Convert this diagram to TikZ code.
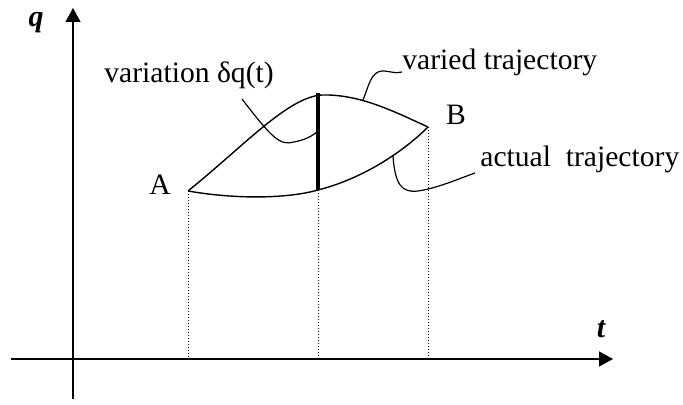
\documentclass[tikz,border=0pt]{standalone}
\usepackage{fontspec}
\setmainfont{Liberation Serif}
\usetikzlibrary{arrows.meta}
\tikzset{
  lbl/.style={inner sep=0pt, font=\fontsize{14.8}{17}\selectfont},
  axislbl/.style={inner sep=0pt, font=\fontsize{15}{17}\selectfont\bfseries\itshape},
  axis/.style={line width=0.7pt, -{Triangle[length=7pt,width=7.5pt]}},
  curve/.style={line width=0.7pt},
  leader/.style={line width=0.6pt},
  guide/.style={line width=0.5pt, dash pattern=on 0.5pt off 1pt},
  thick var/.style={line width=2pt}
}
\begin{document}
\begin{tikzpicture}[x=0.5pt,y=-0.5pt]
\useasboundingbox (0,0) rectangle (683,405);
% coordinates
\coordinate (xs) at (11,359);
\coordinate (xe) at (613,359);
\coordinate (ys) at (73,399);
\coordinate (ye) at (73,8);
\coordinate (A) at (188,191);
\coordinate (B) at (428,127);
\coordinate (P) at (322,95);
\coordinate (Vtop) at (318,93);
\coordinate (Vbot) at (318,190);
\coordinate (Ax) at (188,359);
\coordinate (Mx) at (318,359);
\coordinate (Bx) at (428,359);
% axes
\draw[axis] (xs) -- (xe);
\draw[axis] (ys) -- (ye);
\node[axislbl] (qlbl) at (36,23) {q};
\node[axislbl] (tlbl) at (601,329) {t};
% guides
\draw[guide] (A) -- (Ax);
\draw[guide] (Vbot) -- (Mx);
\draw[guide] (B) -- (Bx);
% varied trajectory
\draw[curve] (A) .. controls (245,145) and (288,97) .. (P) .. controls (360,94) and (395,112) .. (B);
% actual trajectory
\draw[curve] (A) .. controls (240,200) and (290,198) .. (Vbot) .. controls (365,178) and (405,150) .. (B);
% variation
\draw[thick var] (Vtop) -- (Vbot);
% labels
\node[lbl] (Alb) at (160,185) {A};
\node[lbl] (Blb) at (456,115) {B};
\node[lbl, anchor=west] (vlab) at (104,75) {variation δq(t)};
\node[lbl, anchor=west] (vdlab) at (402,62) {varied trajectory};
\node[lbl, anchor=west] (aclab) at (480,159) {actual\ \ trajectory};
% leaders
\coordinate (l1s) at (242,99);
\coordinate (l1e) at (317,132);
\draw[leader] (l1s) .. controls (272,138) and (280,146) .. (294,142) .. controls (305,140) and (312,136) .. (l1e);
\coordinate (l2s) at (363,100);
\coordinate (l2e) at (402,72);
\draw[leader] (l2s) .. controls (369,85) and (371,72) .. (382,71) .. controls (390,71) and (395,74) .. (l2e);
\coordinate (l3s) at (393,156);
\coordinate (l3e) at (475,173);
\draw[leader] (l3s) .. controls (395,185) and (402,193) .. (418,191) .. controls (438,188) and (458,179) .. (l3e);
\end{tikzpicture}
\end{document}
